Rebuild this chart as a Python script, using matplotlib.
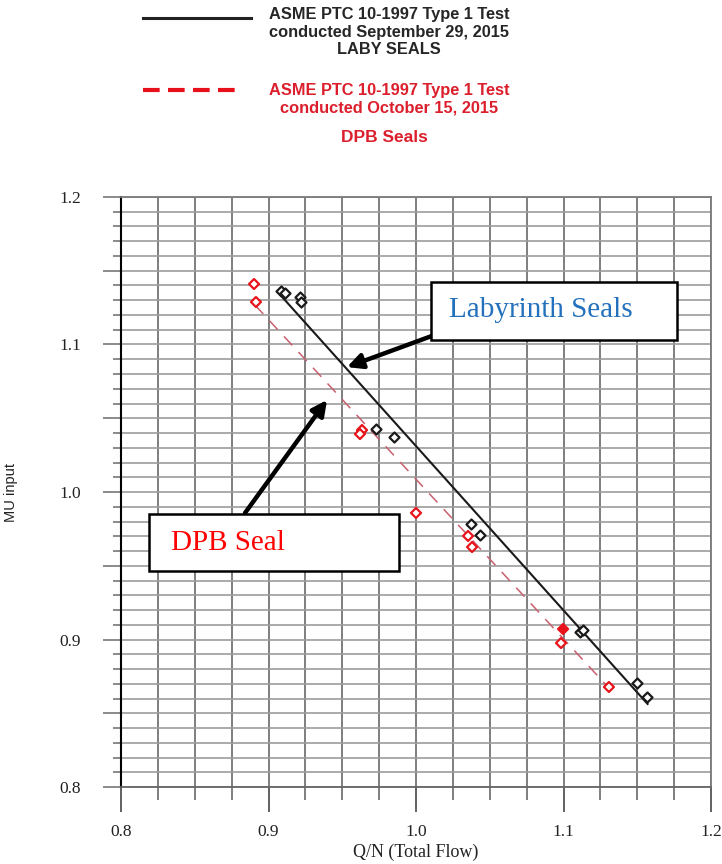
import matplotlib
matplotlib.use('Agg')
import matplotlib.pyplot as plt
from matplotlib.ticker import MultipleLocator, FuncFormatter
from matplotlib.lines import Line2D
from matplotlib.patches import Rectangle

# ---- data ----
laby_x = [0.9085, 0.9112, 0.9214, 0.9220, 0.9729, 0.9851, 1.0373, 1.0434, 1.1112, 1.1132, 1.1498, 1.1566]
laby_y = [1.1363, 1.1349, 1.1322, 1.1288, 1.0427, 1.0373, 0.9783, 0.9708, 0.9051, 0.9065, 0.8705, 0.8610]

dpb_x = [0.8902, 0.8915, 0.9634, 0.9620, 1.0000, 1.0353, 1.0380, 1.0997, 1.0983, 1.1308]
dpb_y = [1.1410, 1.1288, 1.0420, 1.0393, 0.9858, 0.9702, 0.9627, 0.9071, 0.8976, 0.8678]
dpb_filled = [False, False, False, False, False, False, False, True, False, False]

laby_fit_x = [0.908, 1.157]
laby_fit_y = [1.1336, 0.8563]
dpb_fit_x = [0.8908, 1.1308]
dpb_fit_y = [1.1268, 0.8671]

x_major = 0.1
x_minor = 0.025
y_major = 0.05
y_minor = 0.01
x_limits = (0.8, 1.2)
y_limits = (0.8, 1.2)

legend_black = ["ASME PTC 10-1997 Type 1 Test", "conducted September 29, 2015", "LABY SEALS"]
legend_red = ["ASME PTC 10-1997 Type 1 Test", "conducted October 15, 2015"]
legend_red_title = "DPB Seals"

W, H = 722, 864
fig = plt.figure(figsize=(W / 100, H / 100), dpi=100)
ax = fig.add_axes([121 / W, 77 / H, 590 / W, 590 / H])
ax.set_xlim(*x_limits)
ax.set_ylim(*y_limits)

serif = ['Liberation Serif', 'DejaVu Serif']
sans = ['Liberation Sans', 'DejaVu Sans']

# grid / ticks
ax.xaxis.set_major_locator(MultipleLocator(x_major))
ax.xaxis.set_minor_locator(MultipleLocator(x_minor))
ax.yaxis.set_major_locator(MultipleLocator(y_major))
ax.yaxis.set_minor_locator(MultipleLocator(y_minor))
ax.xaxis.set_major_formatter(FuncFormatter(lambda v, p: f"{v:.1f}"))
ax.yaxis.set_major_formatter(FuncFormatter(
    lambda v, p: f"{v:.1f}" if abs(v * 10 - round(v * 10)) < 1e-6 else ""))

ax.grid(True, which='both', axis='x', color='#747474', lw=1.3)
ax.grid(True, which='both', axis='y', color='#9c9c9c', lw=1.2)
ax.set_axisbelow(True)

ax.tick_params(axis='x', which='major', length=18, width=1.3, color='#555555', pad=9)
ax.tick_params(axis='x', which='minor', length=9.5, width=1.3, color='#747474')
ax.tick_params(axis='y', which='major', length=13, width=1.2, color='#777777', pad=16)
ax.tick_params(axis='y', which='minor', length=6, width=1.2, color='#777777')
for lab in ax.get_xticklabels() + ax.get_yticklabels():
    lab.set_fontfamily(serif)
    lab.set_fontsize(12.5)
    lab.set_color('#222222')

for s in ['top', 'right']:
    ax.spines[s].set_color('#7a7a7a')
    ax.spines[s].set_linewidth(1.3)
ax.spines['bottom'].set_color('#666666')
ax.spines['bottom'].set_linewidth(1.3)
ax.spines['left'].set_color('black')
ax.spines['left'].set_linewidth(1.5)

ax.set_xlabel("Q/N (Total Flow)", fontfamily=serif, fontsize=13, color='#222222', labelpad=2)
ax.set_ylabel("MU input", fontfamily=sans, fontsize=10.5, color='#222222')
ax.yaxis.set_label_coords((18 - 121) / 590, 0.5)

# fitted lines
ax.plot(laby_fit_x, laby_fit_y, color='#1a1a1a', lw=1.5, zorder=3)
ax.plot(dpb_fit_x, dpb_fit_y, color='#c8606e', lw=1.1, dashes=(8, 6), zorder=3)

# points
ax.scatter(laby_x, laby_y, marker='D', s=26, facecolors='white', edgecolors='#1a1a1a',
           linewidths=1.6, zorder=4)
dpb_fc = ['#e8141c' if f else 'white' for f in dpb_filled]
ax.scatter(dpb_x, dpb_y, marker='D', s=26, facecolors=dpb_fc, edgecolors='#e8141c',
           linewidths=1.6, zorder=4)

# annotation boxes
ax.add_patch(Rectangle((1.0102, 1.1031), 0.1667, 0.0393, facecolor='white',
                       edgecolor='black', lw=1.8, zorder=6))
ax.text(1.0224, 1.1232, "Labyrinth Seals", fontfamily=serif, fontsize=21,
        color='#2371bd', va='center', ha='left', zorder=7)
ax.add_patch(Rectangle((0.8190, 0.9464), 0.1695, 0.0387, facecolor='white',
                       edgecolor='black', lw=1.8, zorder=6))
ax.text(0.8339, 0.9652, "DPB Seal", fontfamily=serif, fontsize=21,
        color='#ff0000', va='center', ha='left', zorder=7)

arrow_kw = dict(arrowstyle='-|>,head_length=0.9,head_width=0.45', lw=3.2, color='black',
                shrinkA=0, shrinkB=0)
ax.annotate('', xy=(0.9532, 1.0847), xytext=(1.0108, 1.1058), arrowprops=arrow_kw, zorder=5)
ax.annotate('', xy=(0.9397, 1.0624), xytext=(0.8841, 0.9858), arrowprops=arrow_kw, zorder=5)

# custom legend at top (figure pixel coordinates)
def fx(px):
    return px / W

def fy(py):
    return 1 - py / H

fig.add_artist(Line2D([fx(143), fx(251)], [fy(18), fy(18)], color='#222222', lw=2.2))
for i, t in enumerate(legend_black):
    fig.text(fx(389), fy(14 + 18 * i), t, ha='center', va='center', fontfamily=sans,
             fontweight='bold', fontsize=11.8, color='#262626')

fig.add_artist(Line2D([fx(143), fx(243)], [fy(90), fy(90)], color='#e8101a', lw=3,
                      dashes=(4, 2)))
for i, t in enumerate(legend_red):
    fig.text(fx(389), fy(90 + 18 * i), t, ha='center', va='center', fontfamily=sans,
             fontweight='bold', fontsize=11.8, color='#dc1f2c')
fig.text(fx(384), fy(137), legend_red_title, ha='center', va='center', fontfamily=sans,
         fontweight='bold', fontsize=12.5, color='#dc1f2c')

fig.savefig('out.png', dpi=100)
